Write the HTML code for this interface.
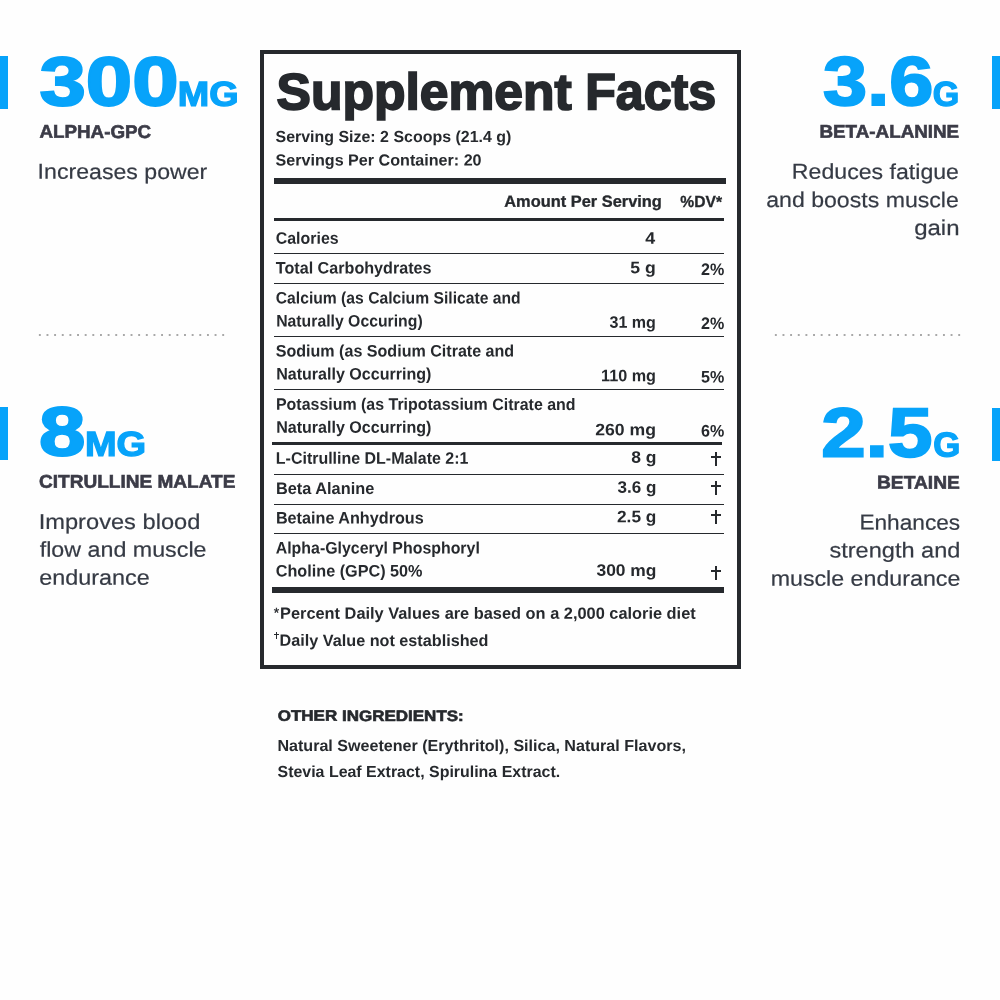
<!DOCTYPE html>
<html lang="en"><head><meta charset="utf-8"><title>Supplement Facts</title>
<style>
html,body{margin:0;padding:0}
body{will-change:transform;width:1000px;height:1000px;background:#fefefe;position:relative;overflow:hidden;font-family:"Liberation Sans",sans-serif}
.t{position:absolute;left:0;top:0;line-height:1;white-space:nowrap;transform-origin:0 0;margin:0}
.r{position:absolute;background:#26292d}
.b{position:absolute;background:#07a3fa}
.box{position:absolute;left:260px;top:50px;width:473px;height:611px;border:4px solid #26292d}
.dots{position:absolute;height:2px;background-image:radial-gradient(circle,#a8a8a8 0.95px,rgba(168,168,168,0) 1.45px);background-size:7.65px 2px;background-repeat:repeat-x}
</style></head><body>
<div class="b" style="left:0px;top:56px;width:8px;height:53px"></div>
<div class="b" style="left:0px;top:407px;width:8px;height:53px"></div>
<div class="b" style="left:992px;top:56px;width:8px;height:52.5px"></div>
<div class="b" style="left:992px;top:407.5px;width:8px;height:53px"></div>
<div class="box"></div>
<div class="r" style="left:274px;top:178px;width:452px;height:6px"></div>
<div class="r" style="left:274px;top:218px;width:450px;height:3px"></div>
<div class="r" style="left:274px;top:253px;width:450px;height:1px"></div>
<div class="r" style="left:274px;top:283px;width:450px;height:1px"></div>
<div class="r" style="left:274px;top:336px;width:450px;height:1px"></div>
<div class="r" style="left:274px;top:389px;width:450px;height:1px"></div>
<div class="r" style="left:272px;top:442px;width:450px;height:3px"></div>
<div class="r" style="left:274px;top:474px;width:450px;height:1px"></div>
<div class="r" style="left:274px;top:504px;width:450px;height:1px"></div>
<div class="r" style="left:274px;top:533px;width:450px;height:1px"></div>
<div class="r" style="left:272px;top:587.2px;width:452px;height:5.699999999999932px"></div>
<div class="r" style="left:714.5px;top:452px;width:2.5px;height:14px"></div>
<div class="r" style="left:710.7px;top:455.9px;width:10px;height:2.4px"></div>
<div class="r" style="left:714.5px;top:481.1px;width:2.5px;height:14px"></div>
<div class="r" style="left:710.7px;top:485.0px;width:10px;height:2.4px"></div>
<div class="r" style="left:714.5px;top:510px;width:2.5px;height:14px"></div>
<div class="r" style="left:710.7px;top:513.9px;width:10px;height:2.4px"></div>
<div class="r" style="left:714.5px;top:565.9px;width:2.5px;height:14px"></div>
<div class="r" style="left:710.7px;top:569.8px;width:10px;height:2.4px"></div>
<div class="r" style="left:276.2px;top:632.3px;width:1.15px;height:6.6px"></div><div class="r" style="left:274.2px;top:634.4px;width:5.1px;height:1.1px"></div>
<div class="dots" style="left:36.2px;top:333.6px;width:191px"></div>
<div class="dots" style="left:771.5px;top:333.6px;width:191px"></div>
<div class="t" style="font-size:69.09px;font-weight:bold;color:#07a3fa;transform:translate(39.40px,47.25px) scaleX(1.2080) skewY(0.03deg);-webkit-text-stroke:2.0px #07a3fa;">300</div>
<div class="t" style="font-size:34.71px;font-weight:bold;color:#07a3fa;transform:translate(177.70px,76.67px) scaleX(1.0882) skewY(0.03deg);-webkit-text-stroke:1.3px #07a3fa;">MG</div>
<div class="t" style="font-size:18.46px;font-weight:bold;color:#3b3b47;transform:translate(39.50px,122.86px) scaleX(1.0183) skewY(0.03deg);-webkit-text-stroke:0.6px #3b3b47;">ALPHA-GPC</div>
<div class="t" style="font-size:21.51px;font-weight:normal;color:#353a44;transform:translate(37.62px,161.85px) scaleX(1.0754) skewY(0.03deg);-webkit-text-stroke:0.2px #353a44;">Increases power</div>
<div class="t" style="font-size:69.09px;font-weight:bold;color:#07a3fa;transform:translate(38.99px,397.25px) scaleX(1.2083) skewY(0.03deg);-webkit-text-stroke:2.0px #07a3fa;">8</div>
<div class="t" style="font-size:34.65px;font-weight:bold;color:#07a3fa;transform:translate(84.88px,426.85px) scaleX(1.0971) skewY(0.03deg);-webkit-text-stroke:1.3px #07a3fa;">MG</div>
<div class="t" style="font-size:18.46px;font-weight:bold;color:#3b3b47;transform:translate(38.98px,472.75px) scaleX(1.0330) skewY(0.03deg);-webkit-text-stroke:0.6px #3b3b47;">CITRULLINE MALATE</div>
<div class="t" style="font-size:21.51px;font-weight:normal;color:#353a44;transform:translate(38.68px,511.90px) scaleX(1.1000) skewY(0.03deg);-webkit-text-stroke:0.2px #353a44;">Improves blood</div>
<div class="t" style="font-size:21.51px;font-weight:normal;color:#353a44;transform:translate(39.73px,539.71px) scaleX(1.0817) skewY(0.03deg);-webkit-text-stroke:0.2px #353a44;">flow and muscle</div>
<div class="t" style="font-size:21.51px;font-weight:normal;color:#353a44;transform:translate(39.18px,567.75px) scaleX(1.0875) skewY(0.03deg);-webkit-text-stroke:0.2px #353a44;">endurance</div>
<div class="t" style="font-size:69.09px;font-weight:bold;color:#07a3fa;transform:translate(823.03px,47.05px) scaleX(1.1479) skewY(0.03deg);-webkit-text-stroke:2.0px #07a3fa;">3.6</div>
<div class="t" style="font-size:34.71px;font-weight:bold;color:#07a3fa;transform:translate(932.76px,76.87px) scaleX(0.9818) skewY(0.03deg);-webkit-text-stroke:1.3px #07a3fa;">G</div>
<div class="t" style="font-size:18.46px;font-weight:bold;color:#3b3b47;transform:translate(819.48px,122.63px) scaleX(1.0203) skewY(0.03deg);-webkit-text-stroke:0.6px #3b3b47;">BETA-ALANINE</div>
<div class="t" style="font-size:21.51px;font-weight:normal;color:#353a44;transform:translate(791.87px,161.85px) scaleX(1.0753) skewY(0.03deg);-webkit-text-stroke:0.2px #353a44;">Reduces fatigue</div>
<div class="t" style="font-size:21.51px;font-weight:normal;color:#353a44;transform:translate(766.19px,190.10px) scaleX(1.0745) skewY(0.03deg);-webkit-text-stroke:0.2px #353a44;">and boosts muscle</div>
<div class="t" style="font-size:21.51px;font-weight:normal;color:#353a44;transform:translate(914.16px,218.11px) scaleX(1.1169) skewY(0.03deg);-webkit-text-stroke:0.2px #353a44;">gain</div>
<div class="t" style="font-size:69.57px;font-weight:bold;color:#07a3fa;transform:translate(821.28px,398.45px) scaleX(1.1480) skewY(0.03deg);-webkit-text-stroke:2.0px #07a3fa;">2.5</div>
<div class="t" style="font-size:34.52px;font-weight:bold;color:#07a3fa;transform:translate(933.24px,427.57px) scaleX(1.0082) skewY(0.03deg);-webkit-text-stroke:1.3px #07a3fa;">G</div>
<div class="t" style="font-size:18.46px;font-weight:bold;color:#3b3b47;transform:translate(876.96px,473.62px) scaleX(1.0415) skewY(0.03deg);-webkit-text-stroke:0.6px #3b3b47;">BETAINE</div>
<div class="t" style="font-size:21.51px;font-weight:normal;color:#353a44;transform:translate(859.41px,512.62px) scaleX(1.0536) skewY(0.03deg);-webkit-text-stroke:0.2px #353a44;">Enhances</div>
<div class="t" style="font-size:21.51px;font-weight:normal;color:#353a44;transform:translate(829.45px,540.55px) scaleX(1.0955) skewY(0.03deg);-webkit-text-stroke:0.2px #353a44;">strength and</div>
<div class="t" style="font-size:21.51px;font-weight:normal;color:#353a44;transform:translate(770.65px,568.65px) scaleX(1.0795) skewY(0.03deg);-webkit-text-stroke:0.2px #353a44;">muscle endurance</div>
<div class="t" style="font-size:51.16px;font-weight:bold;color:#26292d;transform:translate(276.50px,66.26px) scaleX(1.0085) skewY(0.03deg);-webkit-text-stroke:1.8px #26292d;">Supplement</div>
<div class="t" style="font-size:51.16px;font-weight:bold;color:#26292d;transform:translate(585.15px,66.26px) scaleX(0.9800) skewY(0.03deg);-webkit-text-stroke:1.8px #26292d;">Facts</div>
<div class="t" style="font-size:15.99px;font-weight:bold;color:#26292d;transform:translate(275.50px,128.90px) scaleX(0.9979) skewY(0.03deg);">Serving Size: 2 Scoops (21.4 g)</div>
<div class="t" style="font-size:15.99px;font-weight:bold;color:#26292d;transform:translate(275.50px,152.41px) scaleX(1.0086) skewY(0.03deg);">Servings Per Container: 20</div>
<div class="t" style="font-size:16.13px;font-weight:bold;color:#26292d;transform:translate(504.25px,192.74px) scaleX(1.0179) skewY(0.03deg);-webkit-text-stroke:0.3px #26292d;">Amount Per Serving</div>
<div class="t" style="font-size:16.13px;font-weight:bold;color:#26292d;transform:translate(680.26px,193.11px) scaleX(0.9708) skewY(0.03deg);-webkit-text-stroke:0.3px #26292d;">%DV*</div>
<div class="t" style="font-size:16.57px;font-weight:bold;color:#26292d;transform:translate(275.78px,230.76px) scaleX(0.9609) skewY(0.03deg);">Calories</div>
<div class="t" style="font-size:16.57px;font-weight:bold;color:#26292d;transform:translate(275.76px,260.41px) scaleX(0.9748) skewY(0.03deg);">Total Carbohydrates</div>
<div class="t" style="font-size:16.57px;font-weight:bold;color:#26292d;transform:translate(275.79px,290.41px) scaleX(0.9464) skewY(0.03deg);">Calcium (as Calcium Silicate and</div>
<div class="t" style="font-size:16.57px;font-weight:bold;color:#26292d;transform:translate(276.15px,313.41px) scaleX(0.9533) skewY(0.03deg);">Naturally Occuring)</div>
<div class="t" style="font-size:16.57px;font-weight:bold;color:#26292d;transform:translate(275.71px,343.41px) scaleX(0.9705) skewY(0.03deg);">Sodium (as Sodium Citrate and</div>
<div class="t" style="font-size:16.57px;font-weight:bold;color:#26292d;transform:translate(276.13px,366.41px) scaleX(0.9694) skewY(0.03deg);">Naturally Occurring)</div>
<div class="t" style="font-size:16.57px;font-weight:bold;color:#26292d;transform:translate(275.94px,396.76px) scaleX(0.9631) skewY(0.03deg);">Potassium (as Tripotassium Citrate and</div>
<div class="t" style="font-size:16.57px;font-weight:bold;color:#26292d;transform:translate(276.13px,419.76px) scaleX(0.9694) skewY(0.03deg);">Naturally Occurring)</div>
<div class="t" style="font-size:16.57px;font-weight:bold;color:#26292d;transform:translate(275.84px,450.76px) scaleX(0.9644) skewY(0.03deg);">L-Citrulline DL-Malate 2:1</div>
<div class="t" style="font-size:16.57px;font-weight:bold;color:#26292d;transform:translate(276.02px,480.92px) scaleX(0.9847) skewY(0.03deg);">Beta Alanine</div>
<div class="t" style="font-size:16.57px;font-weight:bold;color:#26292d;transform:translate(275.92px,510.41px) scaleX(0.9773) skewY(0.03deg);">Betaine Anhydrous</div>
<div class="t" style="font-size:16.57px;font-weight:bold;color:#26292d;transform:translate(275.72px,540.41px) scaleX(0.9600) skewY(0.03deg);">Alpha-Glyceryl Phosphoryl</div>
<div class="t" style="font-size:16.57px;font-weight:bold;color:#26292d;transform:translate(275.77px,563.41px) scaleX(0.9782) skewY(0.03deg);">Choline (GPC) 50%</div>
<div class="t" style="font-size:16.57px;font-weight:bold;color:#26292d;transform:translate(645.13px,230.81px) scaleX(1.0778) skewY(0.03deg);">4</div>
<div class="t" style="font-size:16.57px;font-weight:bold;color:#26292d;transform:translate(630.37px,260.35px) scaleX(1.0652) skewY(0.03deg);">5 g</div>
<div class="t" style="font-size:16.57px;font-weight:bold;color:#26292d;transform:translate(609.52px,314.86px) scaleX(0.9686) skewY(0.03deg);">31 mg</div>
<div class="t" style="font-size:16.57px;font-weight:bold;color:#26292d;transform:translate(601.02px,368.35px) scaleX(0.9778) skewY(0.03deg);">110 mg</div>
<div class="t" style="font-size:16.57px;font-weight:bold;color:#26292d;transform:translate(595.22px,422.35px) scaleX(1.0640) skewY(0.03deg);">260 mg</div>
<div class="t" style="font-size:16.57px;font-weight:bold;color:#26292d;transform:translate(631.17px,449.86px) scaleX(1.0562) skewY(0.03deg);">8 g</div>
<div class="t" style="font-size:16.57px;font-weight:bold;color:#26292d;transform:translate(617.49px,479.70px) scaleX(1.0290) skewY(0.03deg);">3.6 g</div>
<div class="t" style="font-size:16.57px;font-weight:bold;color:#26292d;transform:translate(616.98px,509.26px) scaleX(1.0428) skewY(0.03deg);">2.5 g</div>
<div class="t" style="font-size:16.57px;font-weight:bold;color:#26292d;transform:translate(596.47px,562.86px) scaleX(1.0505) skewY(0.03deg);">300 mg</div>
<div class="t" style="font-size:16.72px;font-weight:bold;color:#26292d;transform:translate(701.12px,262.04px) scaleX(0.9634) skewY(0.03deg);">2%</div>
<div class="t" style="font-size:16.72px;font-weight:bold;color:#26292d;transform:translate(701.12px,316.04px) scaleX(0.9634) skewY(0.03deg);">2%</div>
<div class="t" style="font-size:16.72px;font-weight:bold;color:#26292d;transform:translate(701.12px,369.53px) scaleX(0.9634) skewY(0.03deg);">5%</div>
<div class="t" style="font-size:16.72px;font-weight:bold;color:#26292d;transform:translate(701.12px,423.53px) scaleX(0.9634) skewY(0.03deg);">6%</div>
<div class="t" style="font-size:13.49px;font-weight:normal;color:#26292d;transform:translate(273.80px,606.15px) scaleX(1.0286) skewY(0.03deg);-webkit-text-stroke:0.3px #26292d;">*</div>
<div class="t" style="font-size:16.28px;font-weight:bold;color:#26292d;transform:translate(279.99px,604.66px) scaleX(1.0061) skewY(0.03deg);">Percent Daily Values are based on a 2,000 calorie diet</div>
<div class="t" style="font-size:16.28px;font-weight:bold;color:#26292d;transform:translate(279.60px,631.86px) scaleX(0.9959) skewY(0.03deg);">Daily Value not established</div>
<div class="t" style="font-size:15.12px;font-weight:bold;color:#26292d;transform:translate(277.72px,707.85px) scaleX(1.1250) skewY(0.03deg);-webkit-text-stroke:0.6px #26292d;">OTHER INGREDIENTS:</div>
<div class="t" style="font-size:15.99px;font-weight:bold;color:#26292d;transform:translate(277.39px,737.90px) scaleX(1.0064) skewY(0.03deg);">Natural Sweetener (Erythritol), Silica, Natural Flavors,</div>
<div class="t" style="font-size:15.99px;font-weight:bold;color:#26292d;transform:translate(277.50px,763.90px) scaleX(0.9973) skewY(0.03deg);">Stevia Leaf Extract, Spirulina Extract.</div>
</body></html>
